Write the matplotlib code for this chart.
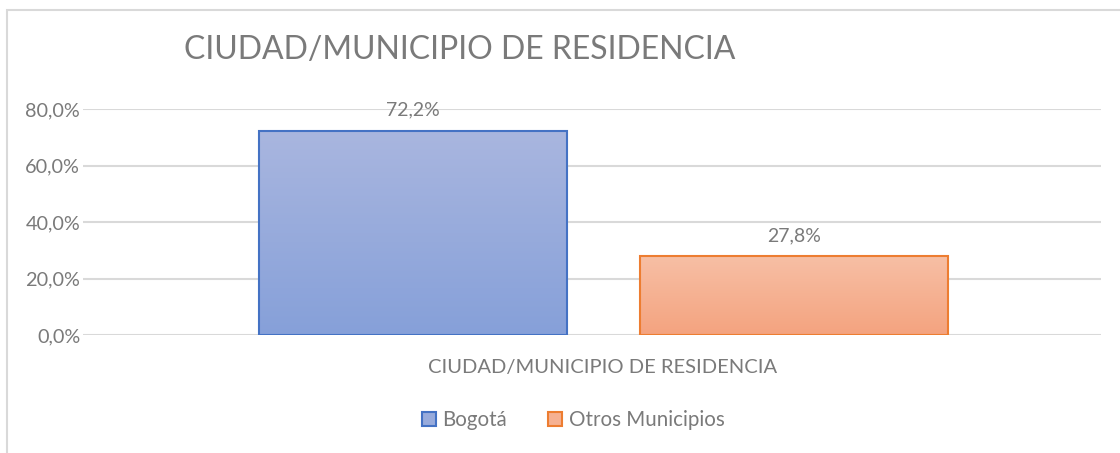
import matplotlib
matplotlib.use("Agg")
from matplotlib import pyplot as plt
from matplotlib.patches import Patch, Rectangle
from matplotlib.colors import LinearSegmentedColormap, to_rgb
import numpy as np

title = "CIUDAD/MUNICIPIO DE RESIDENCIA"
category = "CIUDAD/MUNICIPIO DE RESIDENCIA"
series = ["Bogotá", "Otros Municipios"]
values = [72.2, 27.8]
yticks = [0, 20, 40, 60, 80]

edge_colors = ["#4472c4", "#ed7d31"]
grad_top = ["#a9b6df", "#f7bfa5"]
grad_bottom = ["#86a0d9", "#f4a37f"]
text_color = "#7a7a7a"

plt.rcParams["font.family"] = ["Lato", "DejaVu Sans"]

W, H = 1120, 453
fig = plt.figure(figsize=(W / 100, H / 100), dpi=100)

# chart area border (runs off the right and bottom edges)
fig.patches.append(Rectangle((7 / W, -0.1), 1.2, 1 - 10 / H + 0.1,
                             transform=fig.transFigure, fill=False,
                             edgecolor="#d9d9d9", linewidth=1.5))

ax = fig.add_axes([83 / W, 118 / H, (1101 - 83) / W, 226 / H])
x = np.arange(len(values))
width = 0.808
bars = ax.bar(x, values, width, color="none", zorder=3)

for bar, c0, c1, ec in zip(bars, grad_top, grad_bottom, edge_colors):
    bx, by = bar.get_x(), bar.get_y()
    bw, bh = bar.get_width(), bar.get_height()
    cmap = LinearSegmentedColormap.from_list("g", [c1, c0])
    grad = np.linspace(0, 1, 256).reshape(-1, 1)
    im = ax.imshow(grad, extent=[bx, bx + bw, by, by + bh], origin="lower",
                   aspect="auto", cmap=cmap, zorder=3)
    im.set_clip_path(bar)
    ax.add_patch(Rectangle((bx, by), bw, bh, fill=False, edgecolor=ec,
                           linewidth=1.5, zorder=4))
    ax.annotate(f"{bar.get_height():.1f}%".replace(".", ","),
                (bx + bw / 2, by + bh), xytext=(0, 9), textcoords="offset points",
                ha="center", va="bottom", fontsize=14, color=text_color)

ax.set_xlim(-0.866, 1.806)
ax.set_ylim(0, 80)
ax.set_yticks(yticks)
ax.set_yticklabels([f"{v:.1f}%".replace(".", ",") for v in yticks])
ax.set_xticks([])
ax.tick_params(axis="y", length=0, pad=2, labelsize=14.3, labelcolor=text_color)
ax.grid(axis="y", color="#d9d9d9", linewidth=1.5, zorder=0)
for s in ax.spines.values():
    s.set_visible(False)
ax.set_facecolor("none")

fig.text(603 / W, 1 - 368 / H, category, ha="center", va="center",
         fontsize=14.5, color=text_color)
fig.text(184 / W, 1 - 50 / H, title, ha="left", va="center",
         fontsize=23, color=text_color)

handles = [Patch(facecolor=(np.array(to_rgb(a)) + np.array(to_rgb(b))) / 2,
                 edgecolor=ec, linewidth=1.5)
           for a, b, ec in zip(grad_top, grad_bottom, edge_colors)]
leg = fig.legend(handles, series, loc="center", bbox_to_anchor=(573 / W, 1 - 420 / H),
                 ncol=2, frameon=False, fontsize=14.8, handlelength=0.7,
                 handleheight=0.7, handletextpad=0.3, columnspacing=2.0)
for t in leg.get_texts():
    t.set_color(text_color)

fig.savefig("out.png", dpi=100)
